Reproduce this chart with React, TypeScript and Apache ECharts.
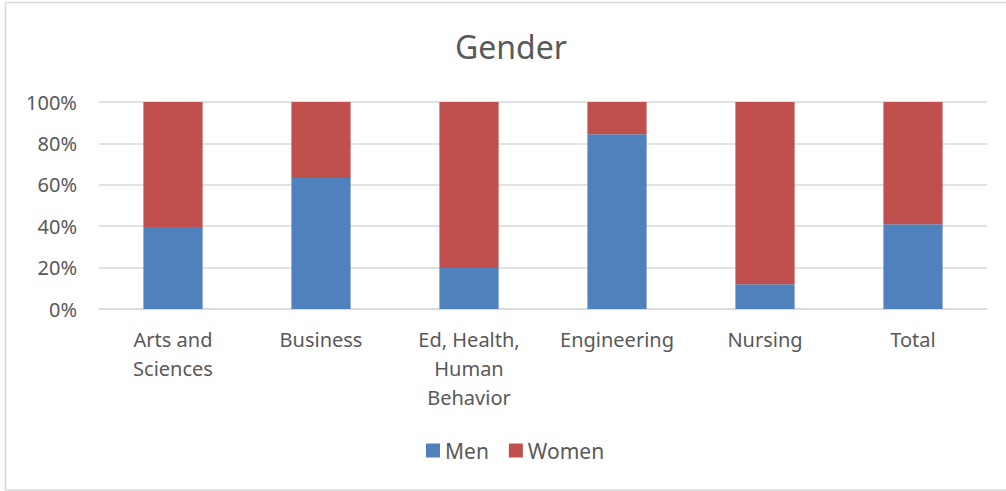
import React, { useEffect, useRef } from "react";
import * as echarts from "echarts";

const categories = ["Arts and Sciences", "Business", "Ed, Health, Human Behavior", "Engineering", "Nursing", "Total"];
const categoryLabels = ["Arts and\nSciences", "Business", "Ed, Health,\nHuman\nBehavior", "Engineering", "Nursing", "Total"];
const men = [39.6, 63.3, 19.8, 84.4, 11.9, 40.9];
const women = [60.4, 36.7, 80.2, 15.6, 88.1, 59.1];
const yTicks = [0, 20, 40, 60, 80, 100];

const FONT = "'Noto Sans', 'Open Sans', sans-serif";
const TEXT = "#595959";
const GRID = "#D9D9D9";

export default function App() {
  const ref = useRef<HTMLDivElement>(null);
  useEffect(() => {
    if (!ref.current) return;
    const chart = echarts.init(ref.current, null, { renderer: "svg" });
    chart.setOption({
      animation: false,
      backgroundColor: "#ffffff",
      textStyle: { fontFamily: FONT },
      title: {
        text: "Gender",
        left: 450,
        top: 25,
        textStyle: { fontFamily: FONT, fontSize: 32, fontWeight: "normal", color: TEXT },
      },
      legend: {
        data: ["Men", "Women"],
        left: 421,
        top: 435,
        itemWidth: 14,
        itemHeight: 14,
        itemGap: 20,
        icon: "rect",
        textStyle: { fontFamily: FONT, fontSize: 21, color: TEXT },
      },
      grid: { left: 99, right: 19, top: 102, bottom: 182, containLabel: false },
      xAxis: {
        type: "category",
        data: categories,
        axisLine: { show: true, lineStyle: { color: GRID, width: 1.5 } },
        axisTick: { show: false },
        axisLabel: {
          color: TEXT,
          fontFamily: FONT,
          fontSize: 20,
          lineHeight: 29,
          margin: 16,
          interval: 0,
          formatter: (_v: string, i: number) => categoryLabels[i],
        },
      },
      yAxis: {
        type: "value",
        min: yTicks[0],
        max: yTicks[yTicks.length - 1],
        interval: 20,
        axisLine: { show: false },
        axisTick: { show: false },
        splitLine: { lineStyle: { color: GRID, width: 1.5 } },
        axisLabel: { color: TEXT, fontFamily: FONT, fontSize: 20, margin: 22, formatter: "{value}%" },
      },
      graphic: [
        {
          type: "rect",
          shape: { x: 5.5, y: 2.5, width: 1010, height: 487.5 },
          style: { fill: "none", stroke: GRID, lineWidth: 1.5 },
          silent: true,
          z: -1,
        },
      ],
      series: [
        { name: "Men", type: "bar", stack: "g", data: men, barWidth: "40%", itemStyle: { color: "#4F81BD" } },
        { name: "Women", type: "bar", stack: "g", data: women, barWidth: "40%", itemStyle: { color: "#C0504D" } },
      ],
    });
    return () => chart.dispose();
  }, []);
  return <div ref={ref} style={{ position: "absolute", left: 0, top: 0, width: 1006, height: 491 }} />;
}
